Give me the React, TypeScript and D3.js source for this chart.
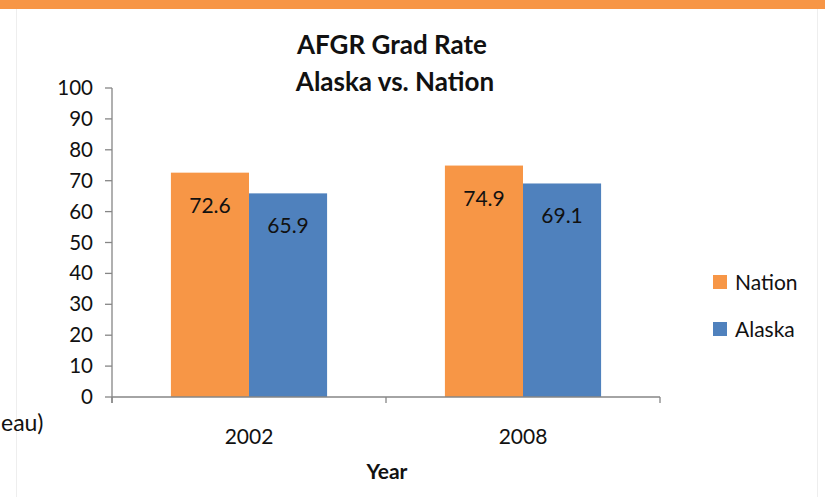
import * as d3 from "d3";

const years = ["2002", "2008"];
const seriesNames = ["Nation", "Alaska"];
const nationValues = [72.6, 74.9];
const alaskaValues = [65.9, 69.1];
const yTicks = [0, 10, 20, 30, 40, 50, 60, 70, 80, 90, 100];

const colors = ["#F79646", "#4F81BD"];
const font = "Lato, 'Open Sans', sans-serif";

export default function App() {
  const width = 825;
  const height = 497;
  const left = 112;
  const right = 660;
  const top = 88;
  const bottom = 397;

  const y = d3.scaleLinear().domain([0, 100]).range([bottom, top]);
  const x0 = d3.scaleBand().domain(years).range([left, right]).paddingInner(0.43).paddingOuter(0.215);
  const x1 = d3.scaleBand().domain(seriesNames).range([0, x0.bandwidth()]);
  const values = [nationValues, alaskaValues];
  const step = (right - left) / years.length;

  return (
    <svg width={width} height={height} style={{ position: "absolute", left: 0, top: 0 }} fontFamily={font}>
      <rect x={0} y={0} width={width} height={height} fill="#fff" />
      <rect x={0} y={0} width={width} height={9} fill="#F79646" />
      <line x1={16.5} x2={16.5} y1={9} y2={height} stroke="#eeeeee" />
      <line x1={817.5} x2={817.5} y1={9} y2={height} stroke="#eeeeee" />

      <text x={392} y={54} textAnchor="middle" fontSize={26} fontWeight="bold" fill="#111">AFGR Grad Rate</text>
      <text x={395} y={91} textAnchor="middle" fontSize={26} fontWeight="bold" fill="#111">Alaska vs. Nation</text>

      {/* y axis */}
      <line x1={left} x2={left} y1={top} y2={bottom + 6} stroke="#868686" strokeWidth={1.3} />
      {yTicks.map((t) => (
        <g key={t}>
          <line x1={left - 7} x2={left} y1={y(t)} y2={y(t)} stroke="#868686" strokeWidth={1.3} />
          <text x={left - 19} y={y(t) + 7} textAnchor="end" fontSize={20.5} fill="#111">{t}</text>
        </g>
      ))}

      {/* bars */}
      {years.map((yr, i) => (
        <g key={yr}>
          {seriesNames.map((s, j) => {
            const v = values[j][i];
            const bx = x0(yr)! + x1(s)!;
            return (
              <g key={s}>
                <rect x={bx} y={y(v)} width={x1.bandwidth()} height={bottom - y(v)} fill={colors[j]} />
                <text x={bx + x1.bandwidth() / 2} y={y(v) + 40} textAnchor="middle" fontSize={21} fill="#111">{v}</text>
              </g>
            );
          })}
        </g>
      ))}

      {/* x axis */}
      <line x1={left} x2={right} y1={bottom} y2={bottom} stroke="#868686" strokeWidth={1.3} />
      {[0, 1, 2].map((k) => (
        <line key={k} x1={left + k * step} x2={left + k * step} y1={bottom} y2={bottom + 6} stroke="#868686" strokeWidth={1.3} />
      ))}
      {years.map((yr) => (
        <text key={yr} x={x0(yr)! + x0.bandwidth() / 2} y={444} textAnchor="middle" fontSize={21} fill="#111">{yr}</text>
      ))}
      <text x={387} y={479} textAnchor="middle" fontSize={21} fontWeight="bold" fill="#111">Year</text>

      {/* legend */}
      {seriesNames.map((s, j) => (
        <g key={s} transform={`translate(713, ${275 + j * 47})`}>
          <rect x={0} y={0} width={14} height={14} fill={colors[j]} />
          <text x={22} y={15} fontSize={21} fill="#111">{s}</text>
        </g>
      ))}

      <text x={1} y={431} textAnchor="start" fontSize={23} fill="#111">eau)</text>
    </svg>
  );
}
